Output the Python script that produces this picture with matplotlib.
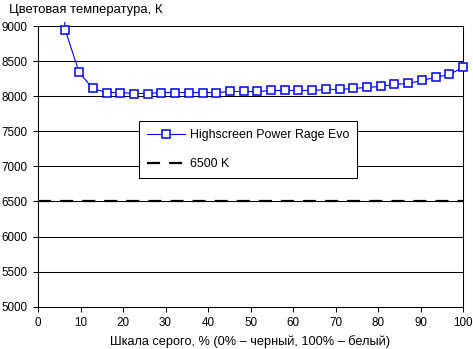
import matplotlib
matplotlib.use("Agg")
import matplotlib.pyplot as plt
from matplotlib.patches import Rectangle
import numpy as np

plt.rcParams['font.family'] = ['Liberation Sans', 'DejaVu Sans']
plt.rcParams['lines.scale_dashes'] = False

# данные: шаг шкалы серого 100/31 %, точка k=1 за пределами графика
gray_step = np.arange(1, 32)
gray_pct = gray_step * 100.0 / 31
temp_k = [11000,
          8938, 8338, 8110, 8052, 8052, 8038, 8038, 8052, 8052, 8052,
          8052, 8052, 8067, 8067, 8067, 8081, 8081, 8081, 8081, 8096,
          8096, 8110, 8124, 8139, 8167, 8181, 8224, 8267, 8310, 8410]
ref_x = [0, 100]
ref_y = [6500, 6500]

series_name = "Highscreen Power Rage Evo"
ref_name = "6500 K"
title = "Цветовая температура, К"
xlabel = "Шкала серого, % (0% – черный, 100% – белый)"

W, H = 473, 349
fig = plt.figure(figsize=(W / 100, H / 100), dpi=100)
# область построения в пикселях: x 38..463, y(5000)=306.7, 70 px на 1000 K
ymax = 9060
top_px = 26 - (ymax - 9000) * 0.07
ax = fig.add_axes([38 / W, (H - 306.7) / H, 425 / W, (306.7 - top_px) / H])

line, = ax.plot(gray_pct, temp_k, color='#0000FF', lw=0.8, marker='s', ms=6,
                mfc='white', mec='#0000FF', mew=1.1, label=series_name, zorder=4)
# обрезаем только сверху, чтобы последний маркер был виден целиком
clip = Rectangle((-0.05, -0.05), 1.1, 1.05, transform=ax.transAxes,
                 facecolor='none', edgecolor='none')
ax.add_patch(clip)
line.set_clip_path(clip)
ax.plot(ref_x, ref_y, color='black', lw=1.6, dashes=(9.4, 6.5),
        label=ref_name, zorder=3)

ax.set_xlim(0, 100)
ax.set_ylim(5000, ymax)
ax.set_xticks(np.arange(0, 101, 10))
ax.set_yticks(np.arange(5000, 9001, 500))
ax.grid(axis='y', color='black', lw=0.75)
ax.set_axisbelow(True)

ax.spines['top'].set_visible(False)
for s in ['left', 'right', 'bottom']:
    ax.spines[s].set_linewidth(0.75)
ax.spines['left'].set_bounds(5000, 9000)
ax.spines['right'].set_bounds(5000, 9000)
ax.tick_params(axis='both', direction='out', length=3.6, width=0.75,
               labelsize=8.4, colors='black')
ax.tick_params(axis='y', pad=4)
ax.tick_params(axis='x', pad=4)

fig.text(9 / W, 1 - 10 / H, title, fontsize=9.4, ha='left', va='center')
fig.text(250.5 / W, 1 - 342 / H, xlabel, fontsize=9.2, ha='center', va='center')

leg = ax.legend(loc='upper left', bbox_to_anchor=(139 / W, 1 - 121 / H),
                bbox_transform=fig.transFigure, borderaxespad=0,
                fontsize=8.9, frameon=True, fancybox=False, framealpha=1,
                edgecolor='black', handlelength=3.1, handletextpad=0.35,
                labelspacing=1.4, borderpad=0.65, numpoints=1)
leg.get_frame().set_linewidth(0.75)
leg.set_zorder(10)

fig.savefig("out.png", dpi=100)
